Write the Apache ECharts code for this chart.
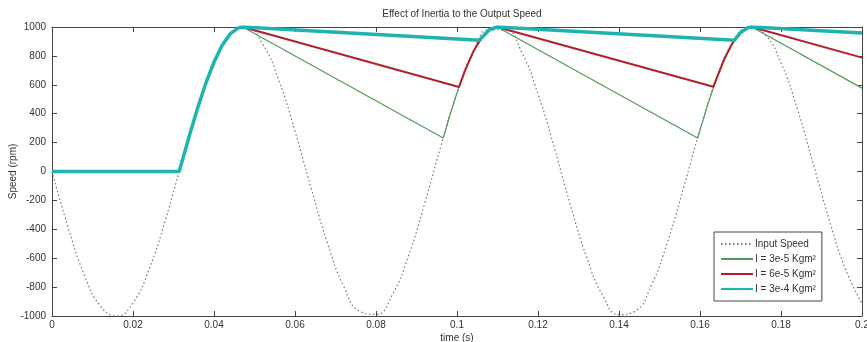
<!DOCTYPE html>
<html>
<head>
<meta charset="utf-8">
<script src="https://cdn.jsdelivr.net/npm/echarts@6/dist/echarts.min.js"></script>
<style>
  html, body { margin: 0; padding: 0; background: #fff; }
  #chart { width: 867px; height: 342px; }
</style>
</head>
<body>
<div id="chart"></div>
<script>
// input speed samples, every 4 ms
const inputTime = [0, 0.004, 0.008, 0.012, 0.016, 0.02, 0.024, 0.028, 0.032, 0.036, 0.04, 0.044, 0.048,
  0.052, 0.056, 0.06, 0.064, 0.068, 0.072, 0.076, 0.08, 0.084, 0.088, 0.092, 0.096, 0.1, 0.104, 0.108,
  0.112, 0.116, 0.12, 0.124, 0.128, 0.132, 0.136, 0.14, 0.144, 0.148, 0.152, 0.156, 0.16, 0.164, 0.168,
  0.172, 0.176, 0.18, 0.184, 0.188, 0.192, 0.196, 0.2]
const inputSpeed = [0, -389, -717, -932, -1000, -909, -675, -335, 58, 443, 757, 952, 996,
  883, 631, 279, -117, -494, -794, -968, -989, -855, -585, -223, 174, 544, 828, 981,
  980, 823, 537, 166, -232, -592, -859, -991, -966, -787, -486, -107, 288, 637, 887,
  998, 949, 751, 436, 49, -343, -682, -913]

// output speed, I = 3e-5
const out1Time = [0, 0.0314, 0.032, 0.034, 0.036, 0.038, 0.04, 0.042, 0.044, 0.046, 0.0471,
  0.0966, 0.098, 0.1, 0.102, 0.104, 0.106, 0.108, 0.1099,
  0.1594, 0.162, 0.164, 0.166, 0.168, 0.17, 0.172, 0.1728, 0.2]
const out1Speed = [0, 0, 58, 256, 443, 612, 757, 872, 952, 994, 1000,
  232, 367, 544, 700, 828, 923, 981, 1000,
  232, 471, 637, 778, 887, 961, 998, 1000, 577]

// output speed, I = 6e-5
const out2Time = [0, 0.0314, 0.032, 0.034, 0.036, 0.038, 0.04, 0.042, 0.044, 0.046, 0.0471,
  0.1005, 0.102, 0.104, 0.106, 0.108, 0.1099,
  0.1633, 0.164, 0.166, 0.168, 0.17, 0.172, 0.1728, 0.2]
const out2Speed = [0, 0, 58, 256, 443, 612, 757, 872, 952, 994, 1000,
  585, 700, 828, 923, 981, 1000,
  586, 637, 778, 887, 961, 998, 1000, 788]

// output speed, I = 3e-4
const out3Time = [0, 0.0314, 0.032, 0.034, 0.036, 0.038, 0.04, 0.042, 0.044, 0.046, 0.0471,
  0.1056, 0.106, 0.108, 0.1099,
  0.1685, 0.17, 0.172, 0.1728, 0.2]
const out3Speed = [0, 0, 58, 256, 443, 612, 757, 872, 952, 994, 1000,
  908, 923, 981, 1000,
  909, 961, 998, 1000, 958]

const seriesNames = ['Input Speed', 'I = 3e-5 Kgm²', 'I = 6e-5 Kgm²', 'I = 3e-4 Kgm²']
const xTickLabels = ['0', '0.02', '0.04', '0.06', '0.08', '0.1', '0.12', '0.14', '0.16', '0.18', '0.2']

const zip = (xs, ys) => xs.map((x, i) => [x, ys[i]])

const font = 'Liberation Sans, Arial, sans-serif'
const axisColor = '#444'

const chart = echarts.init(document.getElementById('chart'))

const baseX = {
  type: 'value',
  min: 0,
  max: 0.2,
  interval: 0.02,
  axisLine: { show: true, onZero: false, lineStyle: { color: axisColor, width: 1 } },
  axisTick: { show: true, inside: true, length: 5, lineStyle: { color: axisColor } },
  splitLine: { show: false },
}
const baseY = {
  type: 'value',
  min: -1000,
  max: 1000,
  interval: 200,
  axisLine: { show: true, onZero: false, lineStyle: { color: axisColor, width: 1 } },
  axisTick: { show: true, inside: true, length: 5, lineStyle: { color: axisColor } },
  splitLine: { show: false },
}

chart.setOption({
  animation: false,
  backgroundColor: '#fff',
  title: {
    text: 'Effect of Inertia to the Output Speed',
    left: 457,
    textAlign: 'center',
    top: 4,
    textStyle: { fontFamily: font, fontSize: 10, fontWeight: 'normal', color: '#333' },
  },
  grid: { left: 52, right: 5, top: 27, bottom: 26, containLabel: false, outerBoundsMode: 'none' },
  legend: {
    orient: 'vertical',
    left: 714,
    top: 232,
    padding: [7, 6, 7, 6],
    itemGap: 5,
    itemWidth: 32,
    itemHeight: 12,
    backgroundColor: '#fff',
    borderColor: '#444',
    borderWidth: 1,
    borderRadius: 0,
    itemStyle: { opacity: 0 },
    data: seriesNames,
    textStyle: { fontFamily: font, fontSize: 10, color: '#333', padding: [0, 0, 0, -3] },
  },
  xAxis: [
    Object.assign({}, baseX, {
      position: 'bottom',
      name: 'time (s)',
      nameLocation: 'middle',
      nameGap: 17,
      nameMoveOverlap: false,
      nameTextStyle: { fontFamily: font, fontSize: 10, color: '#333', verticalAlign: 'top' },
      axisLabel: {
        fontFamily: font, fontSize: 10, color: '#333', margin: 4,
        formatter: (v) => xTickLabels[Math.round(v / 0.02)],
      },
    }),
    Object.assign({}, baseX, { position: 'top', axisLabel: { show: false } }),
  ],
  yAxis: [
    Object.assign({}, baseY, {
      position: 'left',
      name: 'Speed (rpm)',
      nameLocation: 'middle',
      nameGap: 34,
      nameMoveOverlap: false,
      nameTextStyle: { fontFamily: font, fontSize: 10, color: '#333' },
      axisLabel: { fontFamily: font, fontSize: 10, color: '#333', margin: 6, formatter: (v) => String(v) },
    }),
    Object.assign({}, baseY, { position: 'right', axisLabel: { show: false } }),
  ],
  series: [
    {
      name: seriesNames[0],
      type: 'line',
      smooth: true,
      symbol: 'none',
      data: zip(inputTime, inputSpeed),
      lineStyle: { color: '#777', width: 1.2, type: [1.5, 2.5] },
      itemStyle: { color: '#777' },
    },
    {
      name: seriesNames[1],
      type: 'line',
      symbol: 'none',
      data: zip(out1Time, out1Speed),
      lineStyle: { color: '#55995a', width: 1.2 },
      itemStyle: { color: '#55995a' },
    },
    {
      name: seriesNames[2],
      type: 'line',
      symbol: 'none',
      data: zip(out2Time, out2Speed),
      lineStyle: { color: '#b4202a', width: 2 },
      itemStyle: { color: '#b4202a' },
    },
    {
      name: seriesNames[3],
      type: 'line',
      symbol: 'none',
      data: zip(out3Time, out3Speed),
      lineStyle: { color: '#1fb3b0', width: 3.5 },
      itemStyle: { color: '#1fb3b0' },
    },
  ],
})
</script>
</body>
</html>
